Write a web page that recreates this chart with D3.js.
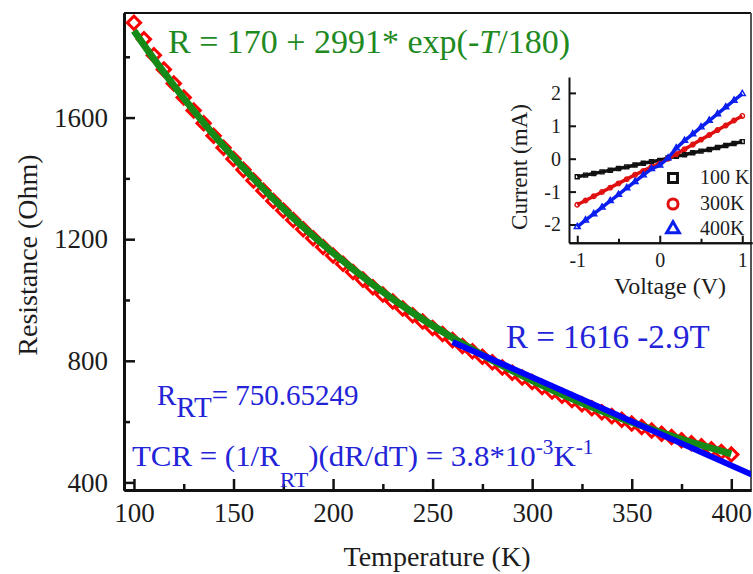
<!DOCTYPE html>
<html>
<head>
<meta charset="utf-8">
<script src="https://cdn.jsdelivr.net/npm/d3@7/dist/d3.min.js"></script>
<style>
  body { margin: 0; background: #fff; }
  text { font-family: "Liberation Serif", "Times New Roman", serif; }
</style>
</head>
<body>
<div class="chart"></div>
<script>
// R(T) measurement (red diamonds)
var temps = [100,105,110,115,120,125,130,135,140,145,150,155,160,165,170,175,180,185,190,195,
  200,205,210,215,220,225,230,235,240,245,250,255,260,265,270,275,280,285,290,295,
  300,305,310,315,320,325,330,335,340,345,350,355,360,365,370,375,380,385,390,395,400];
var resist = [1912,1858,1805,1758,1712,1666,1623,1581,1540,1501,1464,1428,1393,1359,1326,1294,1263,1233,1203,1174,
  1146,1119,1092,1067,1042,1018,995,972,950,929,908,888,868,849,831,813,795,778,761,745,
  730,714,699,685,671,657,644,631,618,606,594,582,571,560,549,539,529,519,509,500,492];

// exponential fit (green)
var fitTemps = [100,110,120,130,140,150,160,170,180,190,200,220,240,260,280,300,320,340,360,380,400];
var fitR = [1886,1793,1706,1623,1544,1470,1400,1333,1270,1211,1155,1051,958,876,801,735,675,622,575,532,494];

// linear fit (blue)
var linTemps = [260, 412];
var linR = [862, 421];

var xTicks = [100,150,200,250,300,350,400];
var xMinor = [125,175,225,275,325,375];
var yTicks = [400,800,1200,1600];
var yMinor = [600,1000,1400,1800];

// inset I-V curves
var volts = [-1,-0.9,-0.8,-0.7,-0.6,-0.5,-0.4,-0.3,-0.2,-0.1,0,0.1,0.2,0.3,0.4,0.5,0.6,0.7,0.8,0.9,1];
var i100 = [-0.55,-0.50,-0.45,-0.40,-0.35,-0.30,-0.25,-0.19,-0.14,-0.09,-0.05,0.02,0.07,0.12,0.18,0.23,0.28,0.34,0.40,0.46,0.52];
var i300 = [-1.40,-1.27,-1.14,-1.01,-0.88,-0.75,-0.62,-0.49,-0.37,-0.25,-0.15,0.0,0.14,0.29,0.43,0.58,0.72,0.87,1.01,1.16,1.30];
var i400 = [-2.07,-1.87,-1.68,-1.48,-1.28,-1.09,-0.89,-0.70,-0.50,-0.31,-0.20,0.02,0.32,0.55,0.75,0.96,1.16,1.36,1.57,1.77,1.97];
var vTicks = [-1,0,1];
var vMinor = [-0.5,0.5];
var iTicks = [-2,-1,0,1,2];
var legendLabels = ["100 K","300K","400K"];

var svgWidth = 753, svgHeight = 574;
var margin = { top: 13, left: 124, right: 2, bottom: 84 };
var width = svgWidth - margin.left - margin.right;
var height = svgHeight - margin.top - margin.bottom;

var svg = d3.select(".chart").append("svg")
  .attr("width", svgWidth)
  .attr("height", svgHeight);

var chartGroup = svg.append("g")
  .attr("transform", `translate(${margin.left}, ${margin.top})`);

var xScale = d3.scaleLinear().domain([95, 409.9]).range([0, width]);
var yScale = d3.scaleLinear().domain([375, 1944]).range([height, 0]);

chartGroup.append("clipPath").attr("id", "plotClip")
  .append("rect").attr("width", width).attr("height", height);

// frame top / right
chartGroup.append("line").attr("x1", 0).attr("x2", width).attr("y1", 0).attr("y2", 0)
  .attr("stroke", "#111").attr("stroke-width", 2);
chartGroup.append("line").attr("x1", width).attr("x2", width).attr("y1", 0).attr("y2", height)
  .attr("stroke", "#555").attr("stroke-width", 2);

// axes
function styleAxis(g, size) {
  g.select(".domain").attr("stroke", "#111").attr("stroke-width", 3);
  g.selectAll(".tick line").attr("stroke", "#111").attr("stroke-width", 2.5);
  g.selectAll(".tick text").attr("fill", "#1c1c1c").style("font-size", size + "px")
    .style("font-family", "Liberation Serif, serif");
}

chartGroup.append("g").attr("transform", `translate(0, ${height})`)
  .call(d3.axisBottom(xScale).tickValues(xMinor).tickSize(-6).tickSizeOuter(0).tickFormat(""))
  .call(g => styleAxis(g, 27));
chartGroup.append("g").attr("transform", `translate(0, ${height})`)
  .call(d3.axisBottom(xScale).tickValues(xTicks).tickSize(-11).tickSizeOuter(0).tickPadding(13).tickFormat(d3.format("d")))
  .call(g => styleAxis(g, 27));
chartGroup.append("g")
  .call(d3.axisLeft(yScale).tickValues(yMinor).tickSize(-6).tickSizeOuter(0).tickFormat(""))
  .call(g => styleAxis(g, 27));
chartGroup.append("g")
  .call(d3.axisLeft(yScale).tickValues(yTicks).tickSize(-11).tickSizeOuter(0).tickPadding(16).tickFormat(d3.format("d")))
  .call(g => styleAxis(g, 27));

// axis titles
svg.append("text")
  .attr("transform", `translate(37, 255) rotate(-90)`)
  .attr("text-anchor", "middle").style("font-size", "28px").attr("fill", "#1c1c1c")
  .text("Resistance (Ohm)");
svg.append("text")
  .attr("x", 437).attr("y", 566)
  .attr("text-anchor", "middle").style("font-size", "28px").attr("fill", "#1c1c1c")
  .text("Temperature (K)");

// data
var plot = chartGroup.append("g").attr("clip-path", "url(#plotClip)");
var pts = temps.map((t, i) => [t, resist[i]]);
plot.selectAll(".diamond").data(pts).enter().append("path")
  .attr("class", "diamond")
  .attr("d", d3.symbol().type(d3.symbolSquare).size(88))
  .attr("transform", d => `translate(${xScale(d[0])}, ${yScale(d[1])}) rotate(45)`)
  .attr("fill", "none").attr("stroke", "#ff0000").attr("stroke-width", 3);

var line = d3.line().x(d => xScale(d[0])).y(d => yScale(d[1]));
plot.append("path")
  .datum(fitTemps.map((t, i) => [t, fitR[i]]))
  .attr("d", line.curve(d3.curveMonotoneX))
  .attr("fill", "none").attr("stroke", "#168a16").attr("stroke-width", 7);
plot.append("path")
  .datum(linTemps.map((t, i) => [t, linR[i]]))
  .attr("d", d3.line().x(d => xScale(d[0])).y(d => yScale(d[1])))
  .attr("fill", "none").attr("stroke", "#0000ff").attr("stroke-width", 6);

// annotations
svg.append("text").attr("x", 168).attr("y", 53)
  .style("font-size", "34px").attr("fill", "#1f8a1f")
  .html('R = 170 + 2991* exp(-<tspan font-style="italic">T</tspan>/180)');
svg.append("text").attr("x", 506).attr("y", 348)
  .style("font-size", "33px").attr("fill", "#2323d8")
  .text("R = 1616 -2.9T");
svg.append("text").attr("x", 157).attr("y", 405)
  .style("font-size", "29px").attr("fill", "#2323d8")
  .html('R<tspan dy="12">RT</tspan><tspan dy="-12">= 750.65249</tspan>');
svg.append("text").attr("transform", "translate(132, 466) scale(1.065, 1)")
  .style("font-size", "29px").attr("fill", "#2323d8")
  .html('TCR = (1/R<tspan dy="21" font-size="22">RT</tspan><tspan dy="-21">)(dR/dT) = 3.8*10</tspan>' +
        '<tspan dy="-12" font-size="20">-3</tspan><tspan dy="12">K</tspan>' +
        '<tspan dy="-12" font-size="20">-1</tspan>');

// inset
var inset = svg.append("g");
var ix = d3.scaleLinear().domain([-1.1, 1.118]).range([569, 752]);
var iy = d3.scaleLinear().domain([-2.553, 2.483]).range([242.7, 77]);

function styleInset(g) {
  g.select(".domain").attr("stroke", "#111").attr("stroke-width", 2);
  g.selectAll(".tick line").attr("stroke", "#111").attr("stroke-width", 2);
  g.selectAll(".tick text").attr("fill", "#1c1c1c").style("font-size", "20px")
    .style("font-family", "Liberation Serif, serif");
}
inset.append("g").attr("transform", "translate(0, 242.7)")
  .call(d3.axisBottom(ix).tickValues(vMinor).tickSize(-4).tickSizeOuter(0).tickFormat(""))
  .call(styleInset);
inset.append("g").attr("transform", "translate(0, 242.7)")
  .call(d3.axisBottom(ix).tickValues(vTicks).tickSize(-7).tickSizeOuter(0).tickPadding(10).tickFormat(d3.format("d")))
  .call(styleInset);
inset.append("g").attr("transform", "translate(569, 0)")
  .call(d3.axisLeft(iy).tickValues(iTicks).tickSize(-7).tickSizeOuter(0).tickPadding(8).tickFormat(d3.format("d")))
  .call(styleInset);
inset.selectAll(".tick text").text(function() { return this.textContent.replace("\u2212", "-"); });

inset.append("text").attr("x", 670).attr("y", 294).attr("text-anchor", "middle")
  .style("font-size", "24px").attr("fill", "#1c1c1c").text("Voltage (V)");
inset.append("text").attr("transform", "translate(527, 167) rotate(-90)").attr("text-anchor", "middle")
  .style("font-size", "23px").attr("fill", "#1c1c1c").text("Current (mA)");

var curves = [
  { vals: i100, color: "#111111", sym: d3.symbolSquare },
  { vals: i300, color: "#e01010", sym: d3.symbolCircle },
  { vals: i400, color: "#0a1ef0", sym: d3.symbolTriangle }
];
var ivLine = d3.line().x(d => ix(d[0])).y(d => iy(d[1]));
curves.forEach(function(c) {
  var data = volts.map((v, i) => [v, c.vals[i]]);
  inset.append("path").datum(data).attr("d", ivLine)
    .attr("fill", "none").attr("stroke", c.color).attr("stroke-width", 3.5);
  inset.selectAll(null).data(data).enter().append("path")
    .attr("d", d3.symbol().type(c.sym).size(16))
    .attr("transform", d => `translate(${ix(d[0])}, ${iy(d[1])})`)
    .attr("fill", "none").attr("stroke", c.color).attr("stroke-width", 1.4);
});

// legend
var legY = [178, 204, 229];
curves.forEach(function(c, i) {
  inset.append("path")
    .attr("d", d3.symbol().type(c.sym).size(c.sym === d3.symbolTriangle ? 70 : 80))
    .attr("transform", `translate(673, ${legY[i]})`)
    .attr("fill", "none").attr("stroke", c.color).attr("stroke-width", 3);
  inset.append("text").attr("x", 700).attr("y", legY[i] + 6)
    .style("font-size", "20px").attr("fill", "#1c1c1c").text(legendLabels[i]);
});
</script>
</body>
</html>
